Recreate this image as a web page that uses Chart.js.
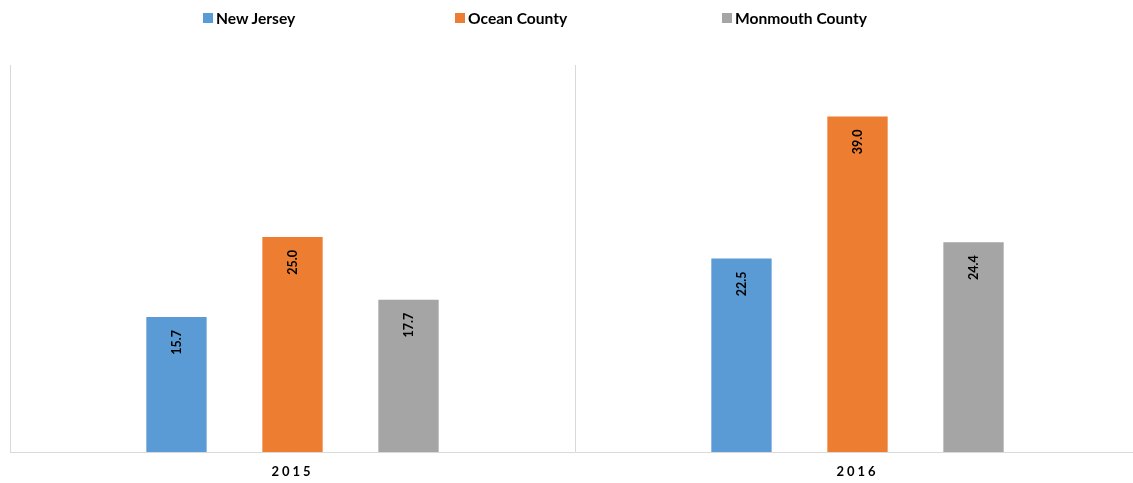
<!DOCTYPE html>
<html>
<head>
<meta charset="utf-8">
<script src="https://cdn.jsdelivr.net/npm/chart.js@4"></script>
<style>
  html, body { margin: 0; padding: 0; background: #fff; overflow: hidden; }
  #wrap { position: relative; width: 1140px; height: 483px; }
  #legend { position: absolute; left: 0; top: 9px; width: 100%;
            font: bold 15.6px Lato, "Open Sans", sans-serif; color: #000; }
  #legend .item { position: absolute; display: flex; align-items: center; white-space: nowrap; }
  #legend .box { width: 10px; height: 10px; margin-right: 3px; }
</style>
</head>
<body>
<div id="wrap">
  <canvas id="chart"></canvas>
  <div id="legend"></div>
</div>
<script>
const years = ['2015', '2016'];
const seriesNames = ['New Jersey', 'Ocean County', 'Monmouth County'];
const newJersey = [15.7, 22.5];
const oceanCounty = [25.0, 39.0];
const monmouthCounty = [17.7, 24.4];
const colors = ['#5B9BD5', '#ED7D31', '#A5A5A5'];

const seriesValues = [newJersey, oceanCounty, monmouthCounty];

// html legend, the item spacing is far wider than the built-in legend allows
const legendLeft = [203, 455, 722];
const legendEl = document.getElementById('legend');
seriesNames.forEach((name, i) => {
    const item = document.createElement('div');
    item.className = 'item';
    item.style.left = legendLeft[i] + 'px';
    item.innerHTML = `<span class="box" style="background:${colors[i]}"></span>${name}`;
    legendEl.appendChild(item);
});

// letter-spaced axis labels, reset before the bars are drawn
const spacingPlugin = {
    id: 'spacing',
    beforeDraw(chart) { chart.ctx.letterSpacing = '3px'; },
    beforeDatasetsDraw(chart) { chart.ctx.letterSpacing = '0px'; }
};

// rotated value labels near the top of each bar
const valueLabels = {
    id: 'valueLabels',
    afterDatasetsDraw(chart) {
        const ctx = chart.ctx;
        chart.data.datasets.forEach((ds, i) => {
            chart.getDatasetMeta(i).data.forEach((bar, j) => {
                ctx.save();
                ctx.translate(bar.x, bar.y + 13);
                ctx.rotate(-Math.PI / 2);
                ctx.font = 'bold 12.5px Lato, "Open Sans", sans-serif';
                ctx.fillStyle = '#000';
                ctx.textAlign = 'right';
                ctx.textBaseline = 'middle';
                ctx.fillText(ds.data[j].toFixed(1), 0, 0);
                ctx.restore();
            });
        });
    }
};

new Chart(document.getElementById('chart'), {
    type: 'bar',
    data: {
        labels: years,
        datasets: seriesNames.map((name, i) => ({
            label: name,
            data: seriesValues[i],
            backgroundColor: colors[i],
            categoryPercentage: 0.616,
            barPercentage: 0.52
        }))
    },
    options: {
        responsive: true,
        maintainAspectRatio: false,
        animation: false,
        layout: { padding: { left: 10, right: 0, top: 65, bottom: 5 } },
        plugins: {
            legend: { display: false },
            tooltip: { enabled: false }
        },
        scales: {
            x: {
                afterFit(scale) { scale.height = 26; },
                grid: { color: '#d9d9d9', drawTicks: false, offset: true },
                border: { color: '#d9d9d9' },
                ticks: {
                    color: '#000',
                    padding: 12,
                    font: { family: 'Lato, "Open Sans", sans-serif', size: 13, weight: 'bold' }
                }
            },
            y: {
                display: false,
                min: 0,
                max: 45
            }
        }
    },
    plugins: [spacingPlugin, valueLabels]
});
</script>
</body>
</html>
